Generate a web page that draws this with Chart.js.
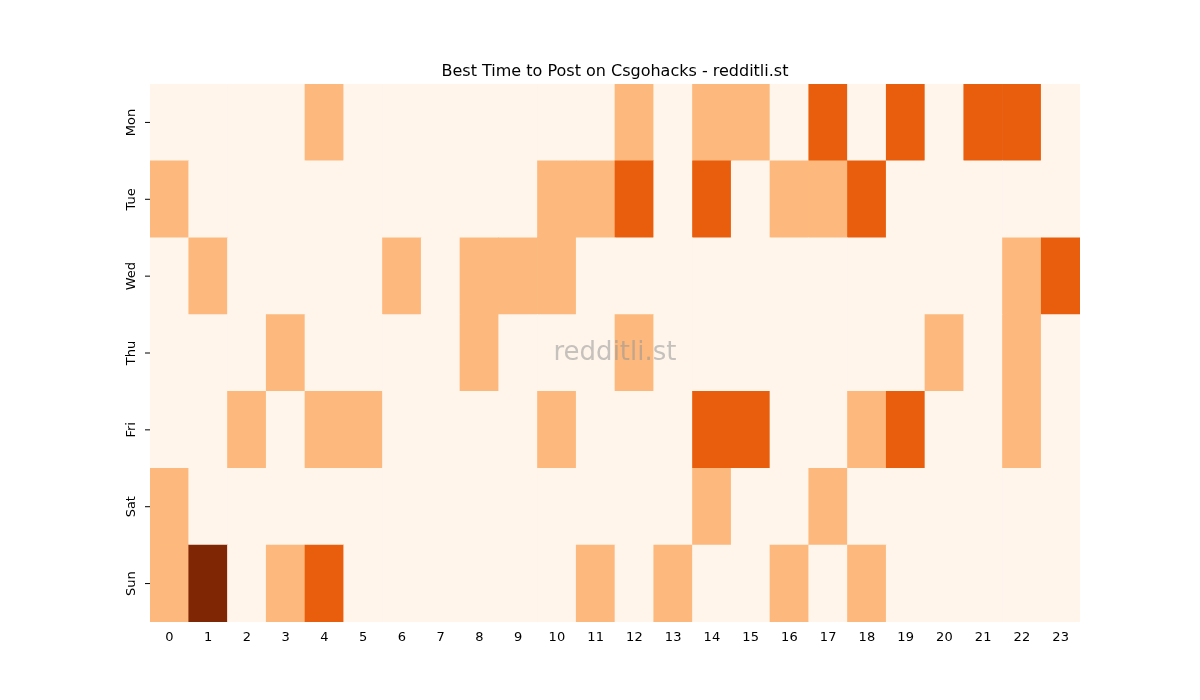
<!DOCTYPE html>
<html><head><meta charset="utf-8">
<script src="https://cdn.jsdelivr.net/npm/chart.js@4/dist/chart.umd.min.js"></script>
<style>body{margin:0;background:#fff}</style></head>
<body><canvas id="c" width="1200" height="700"></canvas>
<script>
const hours = ["0","1","2","3","4","5","6","7","8","9","10","11","12","13","14","15","16","17","18","19","20","21","22","23"];
const days = ["Mon","Tue","Wed","Thu","Fri","Sat","Sun"];
const mon = [0,0,0,0,1,0,0,0,0,0,0,0,1,0,1,1,0,2,0,2,0,2,2,0];
const tue = [1,0,0,0,0,0,0,0,0,0,1,1,2,0,2,0,1,1,2,0,0,0,0,0];
const wed = [0,1,0,0,0,0,1,0,1,1,1,0,0,0,0,0,0,0,0,0,0,0,1,2];
const thu = [0,0,0,1,0,0,0,0,1,0,0,0,1,0,0,0,0,0,0,0,1,0,1,0];
const fri = [0,0,1,0,1,1,0,0,0,0,1,0,0,0,2,2,0,0,1,2,0,0,1,0];
const sat = [1,0,0,0,0,0,0,0,0,0,0,0,0,0,1,0,0,1,0,0,0,0,0,0];
const sun = [1,3,0,1,2,0,0,0,0,0,0,1,0,1,0,0,1,0,1,0,0,0,0,0];
const rows = [mon,tue,wed,thu,fri,sat,sun];
const palette = ["#fff5eb","#fdb97d","#e95e0d","#7f2704"];
// stack from bottom (Sun) to top (Mon)
const datasets = rows.slice().reverse().map((r,i)=>({
  label: days[6-i],
  data: r.map(()=>1),
  backgroundColor: r.map(v=>palette[v]),
  borderWidth:0, barPercentage:1, categoryPercentage:1, stack:"s"
}));
const deco = {
  id:"deco",
  afterDraw(ch){
    const c=ch.ctx, a=ch.chartArea, y=ch.scales.y;
    c.save();
    c.fillStyle="#000"; c.font="16px 'DejaVu Sans'"; c.textAlign="center"; c.textBaseline="alphabetic";
    c.fillText("Best Time to Post on Csgohacks - redditli.st",(a.left+a.right)/2,a.top-8);
    c.font="13px 'DejaVu Sans'"; c.textBaseline="middle";
    days.forEach((d,i)=>{
      const py=y.getPixelForValue(6.5-i);
      c.strokeStyle="#000"; c.lineWidth=1;
      c.beginPath(); c.moveTo(a.left-5,py); c.lineTo(a.left,py); c.stroke();
      c.save(); c.translate(a.left-18,py); c.rotate(-Math.PI/2); c.fillText(d,0,0); c.restore();
    });
    c.font="26px 'DejaVu Sans'"; c.fillStyle="rgba(150,150,150,0.55)";
    c.fillText("redditli.st",(a.left+a.right)/2,(a.top+a.bottom)/2);
    c.restore();
  }
};
new Chart(document.getElementById("c"),{
  type:"bar",
  data:{labels:hours,datasets},
  options:{
    responsive:false, animation:false,
    layout:{padding:{top:84,right:120,left:0,bottom:0}},
    plugins:{legend:{display:false},tooltip:{enabled:false},title:{display:false}},
    scales:{
      x:{stacked:true,grid:{display:false,drawTicks:true,tickLength:5,tickColor:"#000"},border:{display:false},
         ticks:{color:"#000",font:{size:13,family:"DejaVu Sans"},maxRotation:0,autoSkip:false},
         afterFit(s){s.height=78;}},
      y:{stacked:true,min:0,max:7,grid:{display:false},border:{display:false},
         ticks:{display:false},afterFit(s){s.width=150;}}
    }
  },
  plugins:[deco]
});
</script></body></html>
